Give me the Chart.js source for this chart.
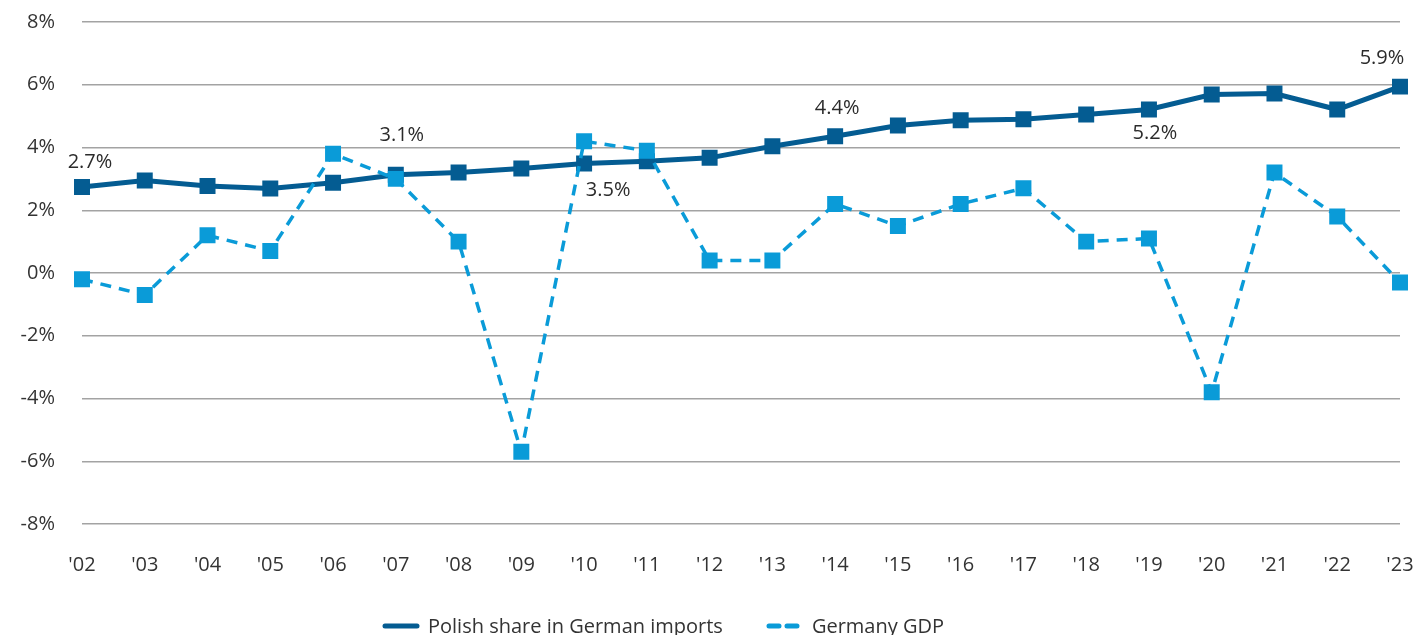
<!DOCTYPE html>
<html>
<head>
<meta charset="utf-8">
<script src="https://cdn.jsdelivr.net/npm/chart.js@4"></script>
<style>
  html, body { margin:0; padding:0; background:#fff; overflow:hidden; }
  #wrap { position:relative; width:1426px; height:635px; }
  #legend { position:absolute; left:382px; top:612px; display:flex; align-items:center;
            font-family:"Open Sans", sans-serif; font-size:20px; color:#333; white-space:nowrap; }
  #legend .item { display:flex; align-items:center; margin-right:43px; }
  #legend svg { margin-right:8px; }
</style>
</head>
<body>
<div id="wrap">
  <canvas id="chart" width="1426" height="631"></canvas>
  <div id="legend"></div>
</div>
<script>
// years on the x axis
const years = ["'02","'03","'04","'05","'06","'07","'08","'09","'10","'11","'12","'13","'14","'15","'16","'17","'18","'19","'20","'21","'22","'23"];

// Polish share in German imports, %
const polishShare = [2.74, 2.95, 2.77, 2.69, 2.88, 3.13, 3.20, 3.33, 3.49, 3.56, 3.67, 4.04, 4.36, 4.70, 4.87, 4.90, 5.05, 5.21, 5.69, 5.72, 5.21, 5.94];

// Germany GDP growth, %
const germanyGdp = [-0.2, -0.7, 1.2, 0.7, 3.8, 3.0, 1.0, -5.7, 4.2, 3.9, 0.4, 0.4, 2.2, 1.5, 2.2, 2.7, 1.0, 1.1, -3.8, 3.2, 1.8, -0.3];

// which points of the Polish line carry a value label
const labelledYears = ["'02","'07","'10","'14","'19","'23"];
const labelTexts = ["2.7%","3.1%","3.5%","4.4%","5.2%","5.9%"];

// y axis ticks
const yMin = -8, yMax = 8, yStep = 2;

const darkBlue = '#045c92';
const lightBlue = '#0a9bd8';
const font = '"Open Sans", sans-serif';

// Value labels next to the Polish share points
const valueLabels = {
  id: 'valueLabels',
  afterDatasetsDraw(chart){
    const meta = chart.getDatasetMeta(0);
    const offsets = { "'02":[8,-25], "'07":[6,-39], "'10":[24,27], "'14":[2,-28], "'19":[6,24], "'23":[-18,-28] };
    const ctx = chart.ctx;
    ctx.save();
    ctx.font = '20px ' + font;
    ctx.fillStyle = '#2b2b2b';
    ctx.textAlign = 'center';
    ctx.textBaseline = 'middle';
    labelledYears.forEach((yr, k) => {
      const i = years.indexOf(yr);
      const pt = meta.data[i];
      const off = offsets[yr];
      ctx.fillText(labelTexts[k], pt.x + off[0], pt.y + off[1]);
    });
    ctx.restore();
  }
};

new Chart(document.getElementById('chart').getContext('2d'), {
  type: 'line',
  data: {
    labels: years,
    datasets: [
      {
        label: 'Polish share in German imports',
        data: polishShare,
        borderColor: darkBlue,
        backgroundColor: darkBlue,
        borderWidth: 5,
        pointStyle: 'rect',
        pointRadius: 11.3,
        pointBorderWidth: 0,
        tension: 0,
        order: 1
      },
      {
        label: 'Germany GDP',
        data: germanyGdp,
        borderColor: lightBlue,
        backgroundColor: lightBlue,
        borderWidth: 3.5,
        borderDash: [11, 8],
        pointStyle: 'rect',
        pointRadius: 11.3,
        pointBorderWidth: 0,
        tension: 0,
        order: 0
      }
    ]
  },
  options: {
    responsive: false,
    animation: false,
    layout: { padding: { top: 22, right: 26, bottom: 25, left: 0 } },
    plugins: {
      legend: { display: false },
      tooltip: { enabled: false }
    },
    scales: {
      x: {
        offset: false,
        afterFit(scale){ scale.paddingLeft = 0; scale.paddingRight = 0; },
        grid: { display: false, drawTicks: false },
        border: { display: false },
        ticks: { color: '#333', font: { family: font, size: 20 }, padding: 29, maxRotation: 0, autoSkip: false }
      },
      y: {
        min: yMin,
        max: yMax,
        afterFit(scale){ scale.width = 82; scale.paddingTop = 0; scale.paddingBottom = 0; },
        grid: { color: '#a3a3a3', lineWidth: 1.5, drawTicks: false },
        border: { display: false },
        ticks: { stepSize: yStep, color: '#333', font: { family: font, size: 20 }, padding: 27,
                 callback: v => v + '%' }
      }
    }
  },
  plugins: [valueLabels]
});

// HTML legend
const legendItems = [
  { text: 'Polish share in German imports', color: darkBlue, width: 5, dash: '' },
  { text: 'Germany GDP', color: lightBlue, width: 5, dash: '10 8' }
];
const legendEl = document.getElementById('legend');
legendItems.forEach(it => {
  const d = document.createElement('div');
  d.className = 'item';
  d.innerHTML = `<svg width="38" height="10"><line x1="3" y1="5" x2="35" y2="5" stroke="${it.color}" stroke-width="${it.width}" stroke-linecap="round" stroke-dasharray="${it.dash}"/></svg><span>${it.text}</span>`;
  legendEl.appendChild(d);
});
</script>
</body>
</html>
